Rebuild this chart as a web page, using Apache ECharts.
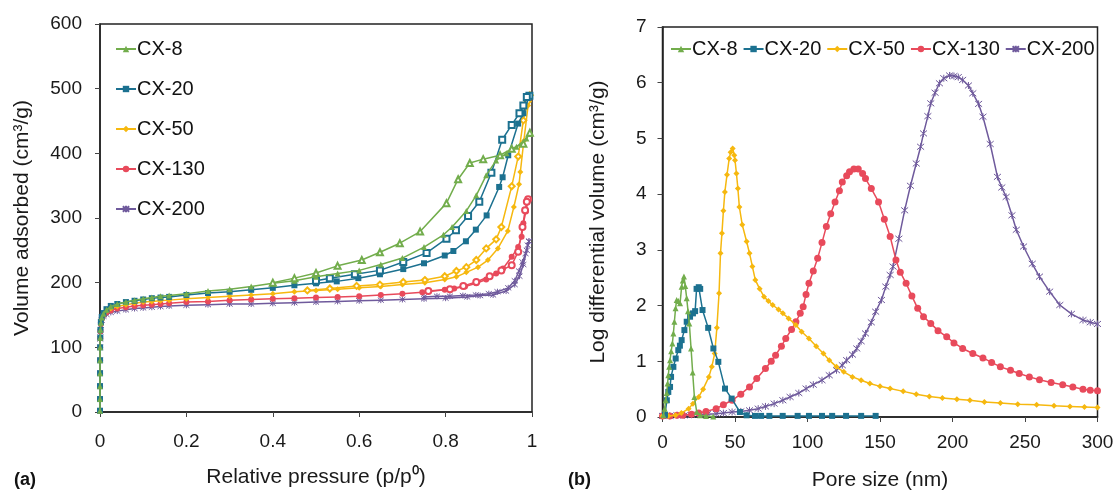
<!DOCTYPE html>
<html><head><meta charset="utf-8">
<script src="https://cdn.jsdelivr.net/npm/echarts@6/dist/echarts.min.js"></script>
<style>html,body{margin:0;padding:0;background:#fff}#c{width:1117px;height:490px}</style>
</head><body><div id="c"></div>
<script>
// ---------- DATA ----------
const names = ['CX-8','CX-20','CX-50','CX-130','CX-200'];
const leftXTicks = [0,0.2,0.4,0.6,0.8,1];
const leftYTicks = [0,100,200,300,400,500,600];
const rightXTicks = [0,50,100,150,200,250,300];
const rightYTicks = [0,1,2,3,4,5,6,7];

// (a) isotherms: [p/p0, volume]
const cx8Ads = [[0,2],[0.00002,20],[0.00005,40],[0.0001,60],[0.0002,80],[0.0003,100],[0.0006,115],[0.001,127],[0.002,138],[0.004,146],[0.008,152],[0.015,158],[0.025,163],[0.04,167],[0.06,170],[0.08,173],[0.1,175],[0.12,177],[0.14,179],[0.16,180],[0.2,183],[0.25,187],[0.3,190],[0.35,194],[0.4,199],[0.45,203],[0.5,209],[0.55,214],[0.6,219],[0.65,228],[0.7,238],[0.75,255],[0.795,274],[0.815,286],[0.848,311],[0.871,335],[0.894,366],[0.917,389],[0.941,400],[0.964,410],[0.987,423],[0.995,430]];
const cx8Des = [[0.995,432],[0.98,415],[0.953,407],[0.926,397],[0.887,391],[0.856,385],[0.829,360],[0.802,323],[0.741,279],[0.694,261],[0.648,247],[0.606,235],[0.55,226],[0.5,215],[0.45,207],[0.4,200]];
const cx20Ads = [[0,2],[0.00002,20],[0.00005,40],[0.0001,60],[0.0002,80],[0.0003,100],[0.0006,115],[0.001,127],[0.002,139],[0.004,147],[0.008,153],[0.015,159],[0.025,164],[0.04,167],[0.06,170],[0.08,172],[0.1,174],[0.12,176],[0.14,177],[0.16,178],[0.2,181],[0.25,184],[0.3,186],[0.35,189],[0.4,192],[0.45,196],[0.5,199],[0.548,202],[0.598,207],[0.648,213],[0.702,221],[0.75,230],[0.798,242],[0.818,249],[0.847,264],[0.87,282],[0.895,304],[0.924,348],[0.932,363],[0.945,397],[0.968,446],[0.98,462],[0.994,489]];
const cx20Des = [[0.994,489],[0.988,487],[0.98,474],[0.971,462],[0.953,444],[0.931,421],[0.906,370],[0.878,325],[0.852,303],[0.824,281],[0.802,268],[0.756,246],[0.702,232],[0.648,219],[0.59,213],[0.532,207],[0.5,203]];
const cx50Ads = [[0,2],[0.00002,20],[0.00005,40],[0.0001,60],[0.0002,80],[0.0003,100],[0.0006,115],[0.001,126],[0.002,137],[0.004,145],[0.008,151],[0.015,156],[0.025,160],[0.04,163],[0.06,166],[0.08,168],[0.1,170],[0.12,171],[0.14,172],[0.16,173],[0.2,175],[0.25,177],[0.3,179],[0.35,181],[0.4,183],[0.45,186],[0.5,188],[0.55,190],[0.6,192],[0.65,194],[0.7,197],[0.752,200],[0.798,205],[0.825,209],[0.848,216],[0.875,224],[0.898,235],[0.921,253],[0.944,280],[0.958,317],[0.97,352],[0.973,371],[0.981,419],[0.991,474],[0.995,490]];
const cx50Des = [[0.995,490],[0.99,480],[0.98,451],[0.968,395],[0.953,349],[0.929,286],[0.917,267],[0.894,253],[0.871,235],[0.848,224],[0.825,218],[0.798,210],[0.752,204],[0.702,201],[0.648,197],[0.594,195],[0.532,191],[0.48,188]];
const cx130Ads = [[0,2],[0.00002,20],[0.00005,40],[0.0001,60],[0.0002,80],[0.0003,100],[0.0006,114],[0.001,125],[0.002,136],[0.004,144],[0.008,150],[0.015,154],[0.025,157],[0.04,160],[0.06,162],[0.08,164],[0.1,165],[0.12,166],[0.14,167],[0.16,168],[0.2,170],[0.25,171],[0.3,173],[0.35,174],[0.4,175],[0.45,176],[0.5,177],[0.55,178],[0.6,179],[0.65,181],[0.7,183],[0.746,185],[0.798,189],[0.82,191],[0.845,194],[0.871,199],[0.894,205],[0.917,214],[0.933,222],[0.953,240],[0.968,255],[0.976,271],[0.98,292],[0.986,310],[0.991,329]];
const cx130Des = [[0.991,329],[0.988,325],[0.984,312],[0.978,286],[0.968,248],[0.953,227],[0.929,219],[0.902,210],[0.871,201],[0.841,195],[0.81,190],[0.76,187]];
const cx200Ads = [[0,2],[0.00002,20],[0.00005,40],[0.0001,60],[0.0002,80],[0.0003,100],[0.0006,113],[0.001,124],[0.002,134],[0.004,142],[0.008,148],[0.015,151],[0.025,154],[0.04,156],[0.06,158],[0.08,160],[0.1,161],[0.12,162],[0.14,163],[0.16,164],[0.2,165],[0.25,166],[0.3,167],[0.35,167],[0.4,168],[0.45,169],[0.5,170],[0.55,171],[0.6,172],[0.65,173],[0.7,174],[0.75,175],[0.8,176],[0.85,178],[0.88,180],[0.91,181],[0.94,187],[0.96,197],[0.971,210],[0.98,228],[0.988,250],[0.993,264]];
const cx200Des = [[0.993,264],[0.99,258],[0.985,245],[0.978,232],[0.97,218],[0.96,203],[0.945,192],[0.92,186],[0.9,183],[0.87,181],[0.84,180],[0.81,179],[0.78,179],[0.75,178]];

// (b) pore size distributions: [pore size nm, log differential volume]
const cx8Psd = [[0.6,0.03],[1.5,0.15],[2.2,0.3],[2.9,0.43],[3.5,0.6],[4.0,0.75],[4.6,0.9],[5.2,1.02],[6.0,1.18],[6.8,1.32],[7.5,1.5],[8.2,1.71],[9.0,1.95],[9.8,2.10],[11,2.08],[12.1,2.04],[13.2,2.34],[14.0,2.45],[14.8,2.52],[15.7,2.35],[16.7,2.13],[17.6,1.90],[18.5,1.68],[19.7,1.23],[20.8,0.8],[22,0.36],[23.6,0.09],[25.9,0.03],[30,0.02],[35,0.01]];
const cx20Psd = [[1.7,0.04],[3,0.3],[4,0.45],[5.2,0.54],[5.9,0.72],[7.5,0.90],[9.1,1.05],[10.9,1.20],[12,1.28],[13.2,1.38],[15.1,1.56],[16.7,1.71],[19,1.80],[21,1.86],[22.5,1.90],[23.5,2.30],[25,2.33],[26,2.30],[27.6,1.92],[31.5,1.6],[35.1,1.23],[38.5,0.99],[43.1,0.51],[47.7,0.33],[53.4,0.09],[58,0.03],[63.8,0.02],[68,0.02],[73.7,0.02],[82.9,0.02],[93.2,0.02],[101,0.02],[110,0.02],[117,0.02],[126.6,0.02],[137,0.02],[147,0.02]];
const cx50Psd = [[0,0.02],[4,0.02],[9,0.03],[13,0.07],[18,0.15],[21,0.24],[25,0.36],[28,0.5],[32,0.72],[34,0.9],[36,1.14],[37.5,1.6],[39,2.22],[40,2.94],[41,3.30],[42,3.7],[43,4.04],[44.5,4.35],[46,4.64],[47,4.75],[48.4,4.82],[49.5,4.7],[50,4.61],[51,4.37],[52,4.1],[53,3.77],[55,3.45],[58,3.15],[60,2.94],[62,2.7],[64,2.46],[67,2.3],[70,2.16],[73,2.08],[76,2.01],[80,1.93],[83,1.86],[87,1.77],[92,1.65],[96,1.53],[101,1.41],[106,1.27],[111,1.14],[115,1.02],[120,0.90],[125,0.81],[131,0.72],[137,0.66],[143,0.60],[150,0.55],[157,0.51],[166,0.46],[175,0.41],[184,0.37],[193,0.34],[203,0.32],[212,0.30],[222,0.27],[233,0.25],[245,0.23],[258,0.22],[270,0.20],[281,0.19],[291,0.18],[300,0.17]];
const cx130Psd = [[0,0.02],[5,0.02],[10,0.03],[14,0.03],[20,0.05],[25,0.07],[30,0.1],[37,0.15],[42,0.22],[48,0.30],[54,0.41],[60,0.54],[65,0.69],[71,0.87],[75,1.0],[78,1.11],[82,1.27],[85,1.41],[89,1.57],[92,1.71],[95,1.86],[97,1.98],[99,2.2],[101,2.40],[104,2.62],[107,2.85],[110,3.13],[113,3.42],[116,3.65],[119,3.86],[122,4.06],[124,4.22],[127,4.33],[129,4.40],[132,4.45],[135,4.45],[138,4.37],[140,4.28],[144,4.10],[149,3.86],[153,3.55],[157,3.24],[161,2.82],[164,2.60],[168,2.40],[172,2.17],[176,1.95],[180,1.80],[185,1.68],[190,1.55],[196,1.44],[201,1.33],[207,1.23],[214,1.14],[221,1.06],[227,0.98],[233,0.90],[240,0.84],[246,0.78],[253,0.72],[260,0.67],[268,0.62],[276,0.58],[283,0.54],[290,0.50],[295,0.48],[300,0.47]];
const cx200Psd = [[0,0.02],[5,0.02],[10,0.03],[15,0.03],[20,0.04],[26,0.05],[31,0.05],[37,0.06],[42,0.07],[48,0.09],[54,0.1],[60,0.12],[66,0.15],[71,0.19],[77,0.24],[83,0.30],[88,0.36],[94,0.43],[99,0.51],[104,0.58],[110,0.66],[115,0.75],[120,0.84],[124,0.93],[127,1.02],[131,1.12],[134,1.23],[137,1.36],[140,1.50],[144,1.70],[147,1.89],[151,2.1],[154,2.34],[157,2.55],[159,2.70],[163,3.2],[167,3.71],[171,4.15],[175,4.55],[178,4.85],[180,5.09],[183,5.40],[185,5.63],[188,5.82],[191,5.99],[194,6.08],[198,6.13],[201,6.12],[204,6.1],[207,6.05],[211,5.95],[214,5.81],[218,5.62],[221,5.39],[226,4.9],[231,4.31],[234,4.12],[237,3.95],[241,3.62],[244,3.36],[249,3.06],[255,2.75],[260,2.52],[267,2.25],[274,2.01],[282,1.85],[290,1.74],[295,1.70],[300,1.67]];

// ---------- STYLE ----------
const colors = ['#72ad4c','#1c7190','#f6b80f','#e84a5b','#6f5a9c'];
const ASTER = 'path://M0,0L10,10M10,0L0,10M5,-1L5,11';
const filledSym = ['triangle','rect','diamond','circle',ASTER];
const emptySym = ['emptyTriangle','emptyRect','emptyDiamond','emptyCircle',ASTER];
const FONT = '"Liberation Sans", Arial, sans-serif';

function mk(name, data, idx, axis, empty, size) {
  const isAst = idx === 4;
  return {
    type: 'line', name: name, data: data,
    xAxisIndex: axis, yAxisIndex: axis,
    symbol: empty ? emptySym[idx] : filledSym[idx],
    symbolSize: size,
    showAllSymbol: true,
    lineStyle: { width: 1.5, color: colors[idx] },
    itemStyle: isAst ? { color: colors[idx], borderColor: colors[idx], borderWidth: 1 } : { color: colors[idx] },
    emphasis: { disabled: true },
    animation: false, z: 5 - idx
  };
}

const leftAds = [cx8Ads, cx20Ads, cx50Ads, cx130Ads, cx200Ads];
const leftDes = [cx8Des, cx20Des, cx50Des, cx130Des, cx200Des];
const rightPsd = [cx8Psd, cx20Psd, cx50Psd, cx130Psd, cx200Psd];
const rightSize = [6, 6, 6, 7, 7];

const series = [];
names.forEach((n, i) => series.push(mk(n, leftAds[i], i, 0, false, 6)));
names.forEach((n, i) => series.push(mk(n, leftDes[i], i, 0, true, 6)));
names.forEach((n, i) => series.push(mk(n, rightPsd[i], i, 1, false, rightSize[i])));

const axisLabel = { fontSize: 19, color: '#1a1a1a', fontFamily: FONT };
const axisName = { fontSize: 21, color: '#1a1a1a', fontFamily: FONT };
const axLine = { show: true, lineStyle: { color: '#222', width: 1.5 } };
const tick = { show: true, inside: false, length: 5, lineStyle: { color: '#444' } };

const chart = echarts.init(document.getElementById('c'), null, { renderer: 'canvas' });
chart.setOption({
  backgroundColor: '#fff',
  animation: false,
  textStyle: { fontFamily: FONT },
  grid: [
    { left: 100, top: 24, width: 432, height: 388, containLabel: false, outerBoundsMode: 'none',
      show: true, borderColor: '#222', borderWidth: 1.5, backgroundColor: 'transparent' },
    { left: 662.5, top: 27, width: 435, height: 390, containLabel: false, outerBoundsMode: 'none',
      show: true, borderColor: '#222', borderWidth: 1.5, backgroundColor: 'transparent' }
  ],
  xAxis: [
    { type: 'value', gridIndex: 0, min: leftXTicks[0], max: leftXTicks[leftXTicks.length-1], interval: 0.2,
      splitLine: { show: false }, axisLine: axLine, axisTick: tick, axisLabel: Object.assign({ margin: 20 }, axisLabel),
      name: 'Relative pressure (p/p\u2070)', nameLocation: 'middle', nameGap: 55, nameTextStyle: axisName },
    { type: 'value', gridIndex: 1, min: rightXTicks[0], max: rightXTicks[rightXTicks.length-1], interval: 50,
      splitLine: { show: false }, axisLine: axLine, axisTick: tick, axisLabel: Object.assign({ margin: 16 }, axisLabel),
      name: 'Pore size (nm)', nameLocation: 'middle', nameGap: 53, nameTextStyle: axisName }
  ],
  yAxis: [
    { type: 'value', gridIndex: 0, min: leftYTicks[0], max: leftYTicks[leftYTicks.length-1], interval: 100,
      splitLine: { show: false }, axisLine: axLine, axisTick: tick, axisLabel: Object.assign({ margin: 18 }, axisLabel),
      name: 'Volume adsorbed (cm\u00b3/g)', nameLocation: 'middle', nameGap: 67, nameTextStyle: axisName },
    { type: 'value', gridIndex: 1, min: rightYTicks[0], max: rightYTicks[rightYTicks.length-1], interval: 1,
      splitLine: { show: false }, axisLine: axLine, axisTick: tick, axisLabel: Object.assign({ margin: 16 }, axisLabel),
      name: 'Log differential volume (cm\u00b3/g)', nameLocation: 'middle', nameGap: 54, nameTextStyle: axisName }
  ],
  legend: [
    { orient: 'vertical', left: 110, top: 33, itemGap: 18, itemWidth: 20, itemHeight: 8, data: names,
      textStyle: { fontSize: 20, lineHeight: 22, color: '#111', fontFamily: FONT, padding: [0,0,0,-4] }, selectedMode: false },
    { orient: 'horizontal', left: 665, top: 34, itemGap: 5, itemWidth: 20, itemHeight: 8, data: names,
      textStyle: { fontSize: 20, color: '#111', fontFamily: FONT, padding: [0,0,0,-4] }, selectedMode: false }
  ],
  graphic: [
    { type: 'text', left: 14, top: 471, style: { text: '(a)', fontSize: 18, fontWeight: 'bold', fill: '#111', fontFamily: FONT } },
    { type: 'text', left: 568, top: 471, style: { text: '(b)', fontSize: 18, fontWeight: 'bold', fill: '#111', fontFamily: FONT } }
  ],
  series: series
});
</script></body></html>
